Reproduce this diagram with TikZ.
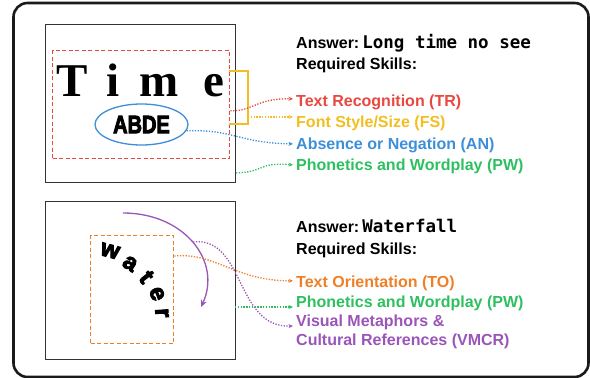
\documentclass[tikz,border=0pt]{standalone}
\usepackage{fontspec}
\setmainfont{Liberation Sans}
\newfontfamily\serifB{Liberation Serif}
\newfontfamily\monoB{DejaVu Sans Mono}
\newfontfamily\heavyfont[FakeBold=4]{Liberation Sans Bold}
\usetikzlibrary{arrows.meta,shapes.geometric}
\definecolor{cRed}{HTML}{E8483F}
\definecolor{cYel}{HTML}{F2BE22}
\definecolor{cBlue}{HTML}{3D8FD9}
\definecolor{cGreen}{HTML}{2EC060}
\definecolor{cOrange}{HTML}{EF7F27}
\definecolor{cPurple}{HTML}{9A55B8}
\definecolor{cFrame}{HTML}{1A1A1A}
\definecolor{cBox}{HTML}{333333}
\tikzset{
  lbl/.style={anchor=base west, inner sep=0pt, font=\bfseries\fontsize{16}{19}\selectfont},
  ans/.style={anchor=base west, inner sep=0pt, font=\bfseries\fontsize{16}{19}\selectfont},
  imgbox/.style={draw=cBox, line width=1pt, fill=white},
  dashbox/.style={line width=1.3pt, dash pattern=on 4pt off 2.5pt},
  dotarrow/.style={line width=1.3pt, dash pattern=on 1.3pt off 1.5pt, -{Stealth[length=4.5pt,width=4pt]}},
  bigletter/.style={anchor=base, inner sep=0pt, font=\serifB\bfseries\fontsize{47}{47}\selectfont},
  wletter/.style={inner sep=0pt, font=\heavyfont\fontsize{24}{24}\selectfont}
}
\begin{document}
\begin{tikzpicture}[x=1pt,y=-1pt]
\useasboundingbox (0,0) rectangle (590,378);
% outer frame
\draw[cFrame, line width=2.6pt, rounded corners=14pt] (13.5,3) rectangle (588.5,377);

% ---------- top panel ----------
\node[imgbox, minimum width=190pt, minimum height=158pt, anchor=north west] (img1) at (45,24) {};
\node[dashbox, draw=cRed, minimum width=177pt, minimum height=108pt, anchor=north west, inner sep=0pt] (redbox) at (52,50) {};
\node[bigletter] (tT) at (72,96) {T};
\node[bigletter] (ti) at (113,96) {i};
\node[bigletter] (tm) at (159,96) {m};
\node[bigletter] (te) at (214,96) {e};
\node[ellipse, draw=cBlue, line width=1.3pt, minimum width=93pt, minimum height=41pt, inner sep=0pt] (abde) at (141.5,124.5)
  {\scalebox{0.8}[1]{\heavyfont\fontsize{25}{25}\selectfont ABDE}};
\coordinate (brA) at (229,71);
\coordinate (brB) at (229,124);
\draw[cYel, line width=1.5pt] (brA) -- ++(19,0) coordinate (brC) -- (brC |- brB) coordinate (brD) -- (brB);
\coordinate (brM) at (248,117);

\node[ans] (ans1) at (296,48) {Answer:\hspace{3pt}{\monoB\bfseries\fontsize{17.5}{19}\selectfont Long time no see}};
\node[ans] (req1) at (296,69) {Required Skills:};
\node[lbl, text=cRed] (tr) at (296,106) {Text Recognition (TR)};
\node[lbl, text=cYel] (fs) at (296,127) {Font Style/Size (FS)};
\node[lbl, text=cBlue] (an) at (296,149) {Absence or Negation (AN)};
\node[lbl, text=cGreen] (pw1) at (296,170.5) {Phonetics and Wordplay (PW)};

\draw[dotarrow, cRed] ([yshift=-6pt]redbox.east) .. controls (252,112) and (256,98) .. ([xshift=-3pt,yshift=3pt]tr.west);
\draw[dotarrow, cYel] (brM) -- ([xshift=-3pt]brM -| fs.west);
\draw[dotarrow, cBlue] (abde.-8) .. controls (232,129) and (240,143) .. ([xshift=-3pt,yshift=1pt]an.west);
\draw[dotarrow, cGreen] ([yshift=10pt]img1.south east) .. controls (265,172) and (258,162) .. ([xshift=-3pt,yshift=1.5pt]pw1.west);

% ---------- bottom panel ----------
\node[imgbox, minimum width=190pt, minimum height=158pt, anchor=north west] (img2) at (45,201) {};
\node[dashbox, draw=cOrange, minimum width=83pt, minimum height=108pt, anchor=north west, inner sep=0pt] (orbox) at (90,235) {};
\node[wletter, rotate=-15] (w1) at (110,251) {w};
\node[wletter, rotate=-32] (w2) at (130,263.5) {a};
\node[wletter, rotate=-52] (w3) at (146.5,277) {t};
\node[wletter, rotate=-70] (w4) at (157,294) {e};
\node[wletter, rotate=-86] (w5) at (162,313) {r};

\coordinate (arcS) at (123,213);
\coordinate (arcE) at (201,307);
\draw[cPurple, line width=1.3pt, -{Stealth[length=7pt,width=6pt]}] (arcS) .. controls (185,213) and (222,262) .. (arcE);

\node[ans] (ans2) at (296,232) {Answer:\hspace{3pt}{\monoB\bfseries\fontsize{17.5}{19}\selectfont Waterfall}};
\node[ans] (req2) at (296,254) {Required Skills:};
\node[lbl, text=cOrange] (to) at (296,287) {Text Orientation (TO)};
\node[lbl, text=cGreen] (pw2) at (296,307) {Phonetics and Wordplay (PW)};
\node[lbl, text=cPurple, align=left, anchor=north west, font=\bfseries\fontsize{16}{19}\selectfont] (vm) at (296,314.5) {Visual Metaphors \&\\Cultural References (VMCR)};

\coordinate (vm0) at (193,242);
\coordinate (g2) at (235,307);
\draw[dotarrow, cOrange] ([yshift=-21pt]orbox.north east) .. controls (215,252) and (235,281) .. ([xshift=-3pt,yshift=2pt]to.west);
\draw[dotarrow, cGreen] (g2) -- ([xshift=-3pt]g2 -| pw2.west);
\draw[dotarrow, cPurple] (vm0) .. controls (245,236) and (235,328) .. ([xshift=-3pt]vm0 |- 0,326 -| vm.west);
\end{tikzpicture}
\end{document}
